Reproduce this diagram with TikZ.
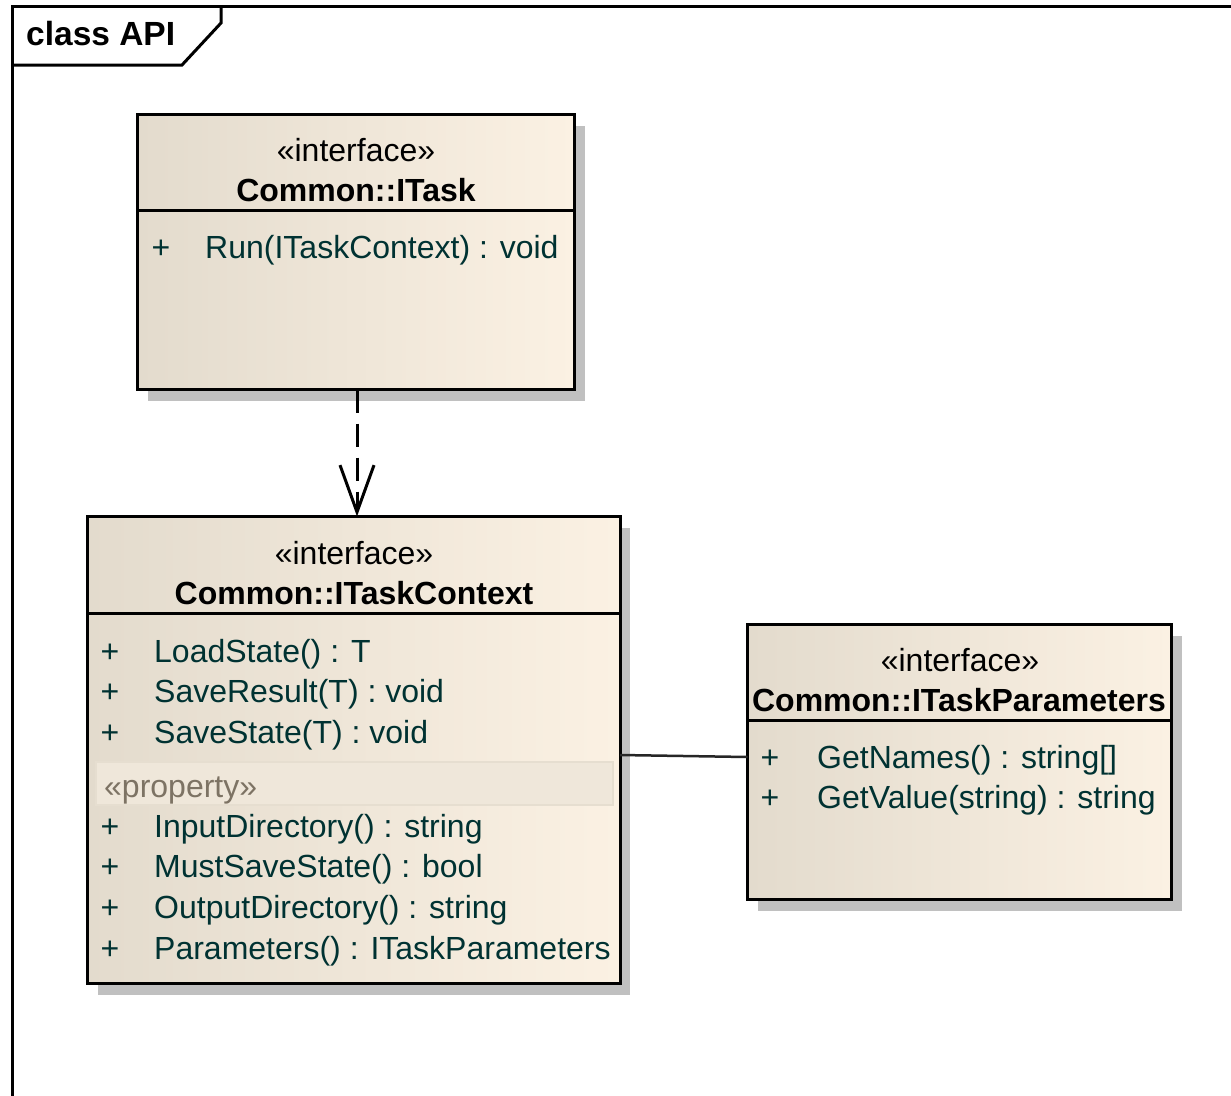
\documentclass[tikz,border=0pt]{standalone}
\usepackage{fontspec}
\setmainfont{Liberation Sans}
\usetikzlibrary{arrows.meta,shadows}
\definecolor{boxL}{RGB}{227,219,205}
\definecolor{boxR}{RGB}{251,241,227}
\definecolor{shadowgray}{RGB}{192,192,192}
\definecolor{membercol}{RGB}{0,50,50}
\definecolor{propfill}{RGB}{239,231,218}
\definecolor{propdraw}{RGB}{230,222,208}
\definecolor{propcol}{RGB}{125,115,100}
\newcommand{\umlfont}{\fontsize{32}{36}\selectfont}
\begin{document}
\begin{tikzpicture}[x=1pt,y=-1pt,
  classbox/.style={draw=black, line width=3pt, left color=boxL, right color=boxR,
    drop shadow={shadow xshift=10pt, shadow yshift=-11pt, fill=shadowgray, opacity=1},
    inner sep=0pt, outer sep=0pt},
  divider/.style={line width=3pt, draw=black},
  frameline/.style={line width=3pt, draw=black},
  stereo/.style={anchor=base, font=\umlfont, inner sep=0pt, text=black},
  cname/.style={anchor=base, font=\umlfont\bfseries, inner sep=0pt, text=black},
  vis/.style={anchor=base, font=\umlfont, inner sep=0pt, text=membercol},
  member/.style={anchor=base west, font=\umlfont, inner sep=0pt, text=membercol},
  propband/.style={draw=propdraw, fill=propfill, line width=1.5pt, inner sep=0pt},
  proplabel/.style={anchor=base west, font=\umlfont, inner sep=0pt, text=propcol},
  dep/.style={line width=3pt, draw=black, dash pattern=on 23pt off 11pt,
    -{Straight Barb[length=47pt, width=34pt, line width=3pt]}},
  assoc/.style={line width=2.5pt, draw=black!85}
]
\useasboundingbox (0,0) rectangle (1231,1095);
\fill[white] (0,0) rectangle (1231,1095);

% frame
\draw[frameline] (12,1100) -- (12,6.5) -- (1235,6.5);
\draw[frameline] (12,65) -- (182,65) -- (221,23) -- (221,6.5);
\node[anchor=base west, font=\fontsize{33.5}{38}\selectfont\bfseries, inner sep=0pt] (title) at (26,45) {class API};

% ITask
\node[classbox, minimum width=437pt, minimum height=275pt] (itask) at (356,252) {};
\draw[divider] (itask.west |- 0,210) -- (itask.east |- 0,210);
\node[stereo] (itaskst) at (356,161) {«interface»};
\node[cname] (itaskname) at (356,201) {Common::ITask};
\node[vis] (itaskv1) at (161,258) {+};
\node[member] (itaskm1) at (205,258) {Run(ITaskContext) : void};

% ITaskContext
\node[classbox, minimum width=532.5pt, minimum height=467pt] (ctx) at (353.75,750) {};
\draw[divider] (ctx.west |- 0,613) -- (ctx.east |- 0,613);
\node[stereo] (ctxst) at (354,564) {«interface»};
\node[cname] (ctxname) at (354,604) {Common::ITaskContext};
\node[vis] (ctxv1) at (110,662) {+};
\node[member] (ctxm1) at (154,662) {LoadState() : T};
\node[vis] (ctxv2) at (110,702) {+};
\node[member] (ctxm2) at (154,702) {SaveResult(T) : void};
\node[vis] (ctxv3) at (110,743) {+};
\node[member] (ctxm3) at (154,743) {SaveState(T) : void};
\node[propband, minimum width=517pt, minimum height=43pt] (band) at (354.5,783.5) {};
\node[proplabel] (prop) at (104,797) {«property»};
\node[vis] (ctxv4) at (110,837) {+};
\node[member] (ctxm4) at (154,837) {InputDirectory() : string};
\node[vis] (ctxv5) at (110,877) {+};
\node[member] (ctxm5) at (154,877) {MustSaveState() : bool};
\node[vis] (ctxv6) at (110,918) {+};
\node[member] (ctxm6) at (154,918) {OutputDirectory() : string};
\node[vis] (ctxv7) at (110,959) {+};
\node[member] (ctxm7) at (154,959) {Parameters() : ITaskParameters};

% ITaskParameters
\node[classbox, minimum width=424pt, minimum height=275pt] (params) at (959.5,762) {};
\draw[divider] (params.west |- 0,720) -- (params.east |- 0,720);
\node[stereo] (parst) at (960,671) {«interface»};
\node[cname] (parname) at (959,711) {Common::ITaskParameters};
\node[vis] (parv1) at (770,768) {+};
\node[member] (parm1) at (817,768) {GetNames() : string[]};
\node[vis] (parv2) at (770,808) {+};
\node[member] (parm2) at (817,808) {GetValue(string) : string};

% connectors
\draw[dep] ([xshift=1pt]itask.south) -- ([xshift=1pt]itask.south |- ctx.north);
\draw[assoc] ([yshift=-5pt]ctx.east) -- ([yshift=5pt]params.west);
\end{tikzpicture}
\end{document}
